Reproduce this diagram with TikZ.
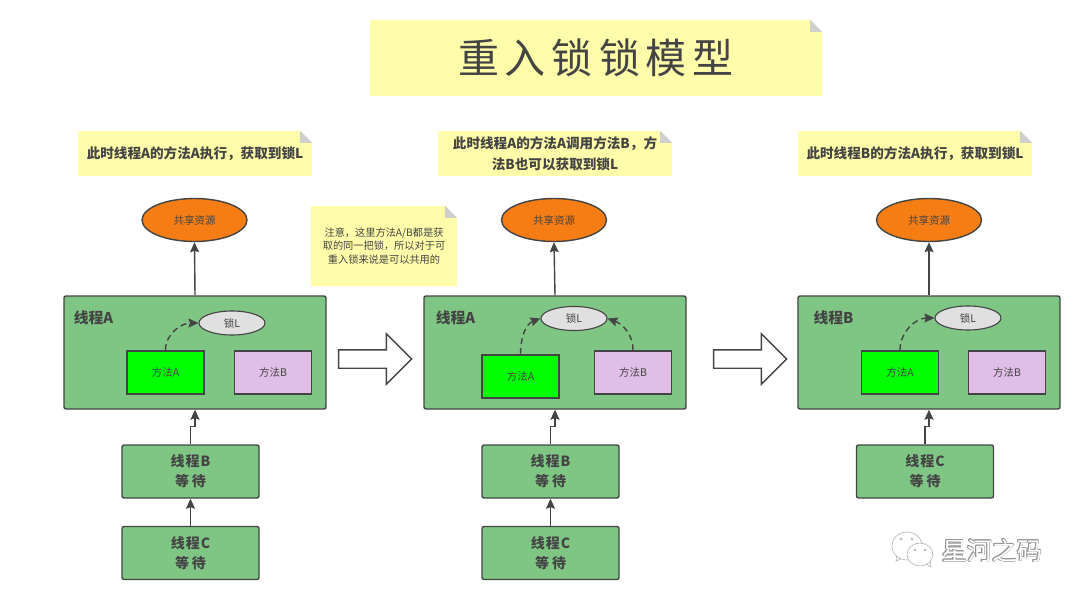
\documentclass[tikz,border=0pt]{standalone}
\usepackage{fontspec}
\usepackage[copies]{contour}
\setmainfont{Noto Sans CJK SC}
\usetikzlibrary{arrows.meta, calc, shapes.geometric, shapes.arrows}
\definecolor{inkgray}{HTML}{444444}
\definecolor{notefill}{HTML}{FFFDA9}
\definecolor{foldgray}{HTML}{CFCFCF}
\definecolor{threadgreen}{HTML}{7FC684}
\definecolor{resorange}{HTML}{F57D14}
\definecolor{methodpurple}{HTML}{E1BEE7}
\tikzset{
    box/.style={draw=inkgray, line width=1.4pt, inner sep=0pt, text=inkgray, align=center},
    note/.style={fill=notefill, inner sep=0pt, text=inkgray, align=center},
    notetext/.style={note, font=\fontsize{13.6}{21}\selectfont\bfseries},
    thread/.style={box, fill=threadgreen, rounded corners=2pt, minimum width=262pt, minimum height=113pt},
    waiter/.style={box, fill=threadgreen, rounded corners=2pt, minimum width=137pt, minimum height=53pt,
        font=\fontsize{14}{20}\selectfont\bfseries},
    threadname/.style={text=inkgray, inner sep=0pt, font=\fontsize{14.8}{16}\selectfont\bfseries},
    resource/.style={box, ellipse, fill=resorange, minimum width=105pt, minimum height=43pt,
        font=\fontsize{10.5}{12}\selectfont},
    lock/.style={box, ellipse, line width=1.1pt, fill=black!12, minimum width=66pt, minimum height=24pt,
        font=\fontsize{10.5}{12}\selectfont},
    method/.style={box, line width=1.7pt, minimum width=77pt, minimum height=43pt, font=\fontsize{10.5}{12}\selectfont},
    methoda/.style={method, fill=green},
    methodb/.style={method, fill=methodpurple},
    flow/.style={draw=inkgray, line width=1.4pt, -{Stealth[width=9pt,length=10pt,inset=1.5pt]}},
    acquire/.style={flow, line width=1.4pt, dash pattern=on 6pt off 4pt},
    bigarrow/.style={single arrow, draw=inkgray, line width=1.4pt, fill=white, minimum height=73pt,
        single arrow head extend=16pt, single arrow tip angle=90, inner xsep=0pt, inner ysep=8.5pt},
    bubble/.style={draw=black!30, fill=white, line width=0.6pt},
}
\newcommand{\foldcorner}[1]{
    \fill[white] ($(#1.north east)+(-12,0)$) -- (#1.north east) -- ++(0,12) -- cycle;
    \fill[foldgray] ($(#1.north east)+(-12,0)$) -- ++(0,12) -- ++(12,0) -- cycle;
}
\begin{document}
\begin{tikzpicture}[x=1pt, y=-1pt]
        \useasboundingbox (0,0) rectangle (1080,599);
        % notes
        \node[note, minimum width=452pt, minimum height=76pt, font=\fontsize{41}{44}\selectfont] (title) at (596,58)
            {重\hspace{6pt}入\hspace{6pt}锁\hspace{6pt}锁\hspace{6pt}模\hspace{6pt}型};
        \node[notetext, minimum width=234pt, minimum height=45pt] (noteone) at (195,153.5) {此时线程A的方法A执行，获取到锁L};
        \node[notetext, minimum width=234pt, minimum height=45pt] (notetwo) at (555,153.5) {此时线程A的方法A调用方法B，方\\法B也可以获取到锁L};
        \node[notetext, minimum width=234pt, minimum height=45pt] (notethree) at (915,153.5) {此时线程B的方法A执行，获取到锁L};
        \node[note, minimum width=146pt, minimum height=80pt, font=\fontsize{10.2}{13.5}\selectfont] (noteshare) at (384,246)
            {注意，这里方法A/B都是获\\取的同一把锁，所以对于可\\重入锁来说是可以共用的};
        \foreach \n in {noteone, notetwo, notethree, noteshare, title} {\foldcorner{\n}}
        % first state
        \node[resource] (resa) at (194.5,220) {共享资源};
        \node[thread] (threada) at (195,352.5) {};
        \node[threadname] (namea) at (93.5,318) {线程A};
        \node[lock] (locka) at (232,323) {锁L};
        \node[methoda] (methodaa) at (165.5,372.5) {方法A};
        \node[methodb] (methodab) at (273,372.5) {方法B};
        \node[waiter] (waitab) at (190.5,471.5) {线\hspace{1pt}程\hspace{1pt}B\\等\hspace{3pt}待};
        \node[waiter] (waitac) at (190.5,553) {线\hspace{1pt}程\hspace{1pt}C\\等\hspace{3pt}待};
        % second state
        \node[resource] (resb) at (554,220) {共享资源};
        \node[thread] (threadb) at (555,352.5) {};
        \node[threadname] (nameb) at (455.5,318) {线程A};
        \node[lock] (lockb) at (574,318.5) {锁L};
        \node[methoda] (methodba) at (520.5,376.5) {方法A};
        \node[methodb] (methodbb) at (633,372.5) {方法B};
        \node[waiter] (waitbb) at (550.5,471.5) {线\hspace{1pt}程\hspace{1pt}B\\等\hspace{3pt}待};
        \node[waiter] (waitbc) at (550.5,553) {线\hspace{1pt}程\hspace{1pt}C\\等\hspace{3pt}待};
        % third state
        \node[resource] (resc) at (929,220) {共享资源};
        \node[thread] (threadc) at (929,352.5) {};
        \node[threadname] (namec) at (833.5,318) {线程B};
        \node[lock] (lockc) at (968,318) {锁L};
        \node[methoda] (methodca) at (900,372.5) {方法A};
        \node[methodb] (methodcb) at (1007,372.5) {方法B};
        \node[waiter] (waitcc) at (925,471.5) {线\hspace{1pt}程\hspace{1pt}C\\等\hspace{3pt}待};
        % arrows
        \node[bigarrow] (stepone) at (370.5,359) {};
        \node[bigarrow] (steptwo) at (745.5,359) {};
        \draw[flow] (threada.north) -- (resa.south);
        \draw[flow] (threadb.north) -- (resb.south);
        \draw[flow] (threadc.north) -- (resc.south);
        \draw[flow] (waitab.north) -- ++(0,-18) -| (threada.south);
        \draw[flow] (waitbb.north) -- ++(0,-18) -| (threadb.south);
        \draw[flow] (waitcc.north) -- ++(0,-18) -| (threadc.south);
        \draw[flow] (waitac.north) -- (waitab.south);
        \draw[flow] (waitbc.north) -- (waitbb.south);
        \draw[acquire] (methodaa.north) to[out=90, in=180] (locka.west);
        \draw[acquire] (methodba.north) to[out=90, in=200] (lockb.west);
        \draw[acquire] (methodbb.north) to[out=90, in=-20] (lockb.east);
        \draw[acquire] (methodca.north) to[out=90, in=180] (lockc.west);
        % watermark
        \draw[bubble] (897,554) -- (896,561) -- (905,557);
        \draw[bubble] (907,546) ellipse (15 and 14);
        \draw[bubble] (925,563) -- (931,567) -- (930,560);
        \draw[bubble] (920,554.5) ellipse (13 and 11.5);
        \foreach \x/\y/\r in {901/539/1.2, 912/539/1.2, 915/550/1, 925/550/1} {\draw[black!30, line width=0.5pt] (\x,\y) circle (\r);}
        \node[inner sep=0pt, text=white, font=\fontsize{25}{28}\selectfont] (mark) at (992,551)
            {\contourlength{0.5pt}\contour{black!40}{星河之码}};
\end{tikzpicture}
\end{document}
